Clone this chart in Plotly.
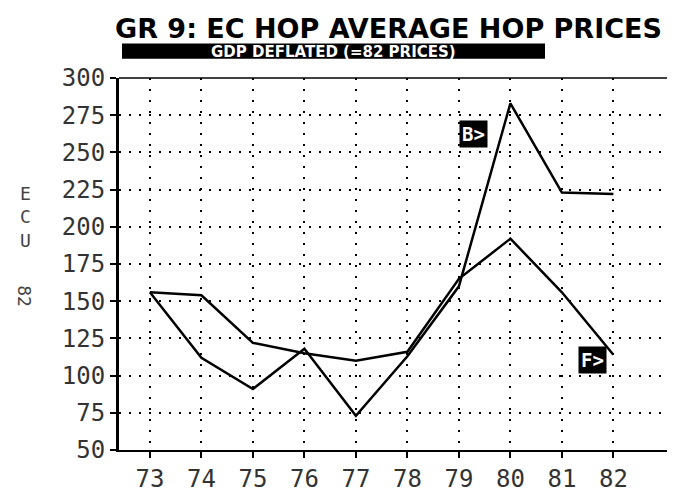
import plotly.graph_objects as go

years = [73, 74, 75, 76, 77, 78, 79, 80, 81, 82]
tick_labels = ["73", "74", "75", "76", "77", "78", "79", "80", "81", "82"]
series_b = [156, 112, 91, 118, 73, 113, 160, 283, 223, 222]
series_f = [156, 154, 122, 115, 110, 116, 165, 192, 156, 114]
y_ticks = [50, 75, 100, 125, 150, 175, 200, 225, 250, 275, 300]

W, H = 675, 495
L, R, T, B = 111, 10, 70, 38
PW, PH = W - L - R, H - T - B

def px(x):
    return (x - L) / PW

def py(y):
    return (H - B - y) / PH

MONO = "DejaVu Sans Mono"

fig = go.Figure()
for ys in (series_b, series_f):
    fig.add_trace(go.Scatter(x=years, y=ys, mode="lines",
                             line=dict(color="black", width=2.5),
                             showlegend=False, hoverinfo="skip"))

fig.update_layout(
    width=W, height=H,
    margin=dict(l=L, r=R, t=T, b=B, pad=0),
    paper_bgcolor="white", plot_bgcolor="white",
    font=dict(family=MONO, color="#222"),
)
fig.update_xaxes(
    range=[72.4, 72.4 + PW / 51.5],
    tickvals=years, ticktext=tick_labels,
    tickfont=dict(family=MONO, size=24, color="#333"),
    ticks="outside", ticklen=6, tickwidth=1.5, tickcolor="black",
    showline=True, linecolor="black", linewidth=2,
    showgrid=True, gridcolor="black", gridwidth=1.6, griddash="2px,9px",
    zeroline=False, fixedrange=True,
)
fig.update_yaxes(
    range=[50, 300],
    tickvals=y_ticks,
    tickfont=dict(family=MONO, size=24, color="#333"),
    ticks="outside", ticklen=6, tickwidth=2, tickcolor="black",
    showline=True, linecolor="black", linewidth=3,
    showgrid=True, gridcolor="black", gridwidth=1.6, griddash="2px,8px",
    zeroline=False, fixedrange=True,
)

# top border line
fig.add_shape(type="line", xref="paper", yref="paper", x0=0, x1=1, y0=1, y1=1,
              line=dict(color="black", width=1.5))

# title
fig.add_annotation(text="<b>GR 9: EC HOP AVERAGE HOP PRICES</b>", xref="paper", yref="paper",
                   x=px(380), y=py(18), xanchor="center", yanchor="middle",
                   showarrow=False, font=dict(family="DejaVu Sans", size=27, color="black"))
# subtitle bar
fig.add_shape(type="rect", xref="paper", yref="paper",
              x0=px(114), x1=px(537), y0=py(50), y1=py(34),
              fillcolor="black", line=dict(width=0))
fig.add_annotation(text="<b>GDP DEFLATED (=82 PRICES)</b>", xref="paper", yref="paper",
                   x=px(325), y=py(42.5), xanchor="center", yanchor="middle",
                   showarrow=False, font=dict(family="DejaVu Sans", size=15, color="white"))

# y-axis title
fig.add_annotation(text="E<br>C<br>U", xref="paper", yref="paper",
                   x=px(17), y=py(215), xanchor="center", yanchor="middle",
                   showarrow=False, font=dict(family=MONO, size=18, color="#444"))
fig.add_annotation(text="82", xref="paper", yref="paper", textangle=90,
                   x=px(17), y=py(297), xanchor="center", yanchor="middle",
                   showarrow=False, font=dict(family=MONO, size=18, color="#444"))

# series labels
fig.add_annotation(text="<b>B></b>", x=79.29, y=262.5, showarrow=False,
                   font=dict(family=MONO, size=19, color="white"),
                   bgcolor="black", borderpad=2)
fig.add_annotation(text="<b>F></b>", x=81.6, y=110.7, showarrow=False,
                   font=dict(family=MONO, size=19, color="white"),
                   bgcolor="black", borderpad=2)

fig.write_html("out.html")
